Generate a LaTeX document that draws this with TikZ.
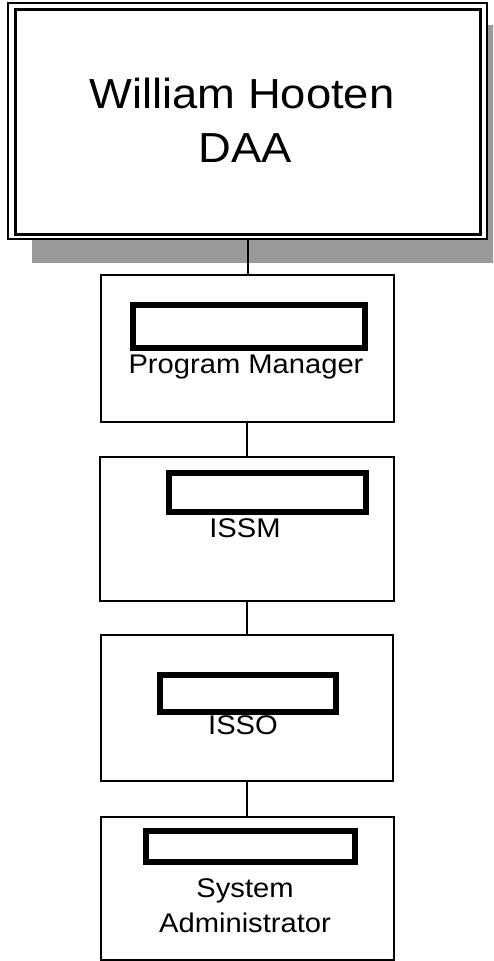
\documentclass[tikz,border=0pt]{standalone}
\usepackage{fontspec}
\setmainfont{Liberation Sans}
\newfontfamily\widefont[FakeStretch=1.08]{Liberation Sans}
\tikzset{
  orgbox/.style={draw, line width=1.4pt, fill=white, inner sep=0pt},
  namebar/.style={draw, line width=5.5pt, inner sep=0pt},
  bigtxt/.style={anchor=base, inner sep=0pt, font=\widefont\fontsize{42}{42}\selectfont},
  smalltxt/.style={anchor=base, inner sep=0pt, font=\widefont\fontsize{27}{27}\selectfont},
  link/.style={line width=1.4pt}
}
\begin{document}
\begin{tikzpicture}[x=1pt,y=-1pt]
\useasboundingbox (0,0) rectangle (493,961);
\clip (0,0) rectangle (493,961);
% shadow of the top box
\fill[black!40] (32,25) rectangle (520,263);
% top box (double frame)
\node[orgbox, line width=1.5pt, minimum width=479pt, minimum height=236pt] (daa) at (247.5,121) {};
\node[draw, line width=3pt, inner sep=0pt, minimum width=465pt, minimum height=225pt] (daain) at (247.5,121.5) {};
\node[bigtxt] (daaname) at (242,108) {William Hooten};
\node[bigtxt] (daarole) at (245,162) {DAA};
% Program Manager
\node[orgbox, minimum width=293pt, minimum height=147pt] (pm) at (247.5,348.5) {};
\node[smalltxt] (pmtxt) at (246,373) {Program Manager};
\node[namebar, minimum width=232pt, minimum height=43pt] (pmbar) at (249,326.5) {};
% ISSM
\node[orgbox, minimum width=294pt, minimum height=144pt] (issm) at (247,529) {};
\node[smalltxt] (issmtxt) at (245,537) {ISSM};
\node[namebar, minimum width=197pt, minimum height=39pt] (issmbar) at (267.5,492.5) {};
% ISSO
\node[orgbox, minimum width=292pt, minimum height=146pt] (isso) at (247,708) {};
\node[smalltxt] (issotxt) at (243,734) {ISSO};
\node[namebar, minimum width=176pt, minimum height=37pt] (issobar) at (248,693.5) {};
% System Administrator
\node[orgbox, minimum width=293pt, minimum height=143pt] (sa) at (247.5,888.5) {};
\node[smalltxt] (satxt1) at (245,897) {System};
\node[smalltxt] (satxt2) at (245,932) {Administrator};
\node[namebar, minimum width=209pt, minimum height=31pt] (sabar) at (250.5,846.5) {};
% connectors
\draw[link] (daa.south -| 248,0) -- (pm.north -| 248,0);
\draw[link] (pm.south -| 247,0) -- (issm.north -| 247,0);
\draw[link] (issm.south -| 247,0) -- (isso.north -| 247,0);
\draw[link] (isso.south -| 247,0) -- (sa.north -| 247,0);
\end{tikzpicture}
\end{document}
